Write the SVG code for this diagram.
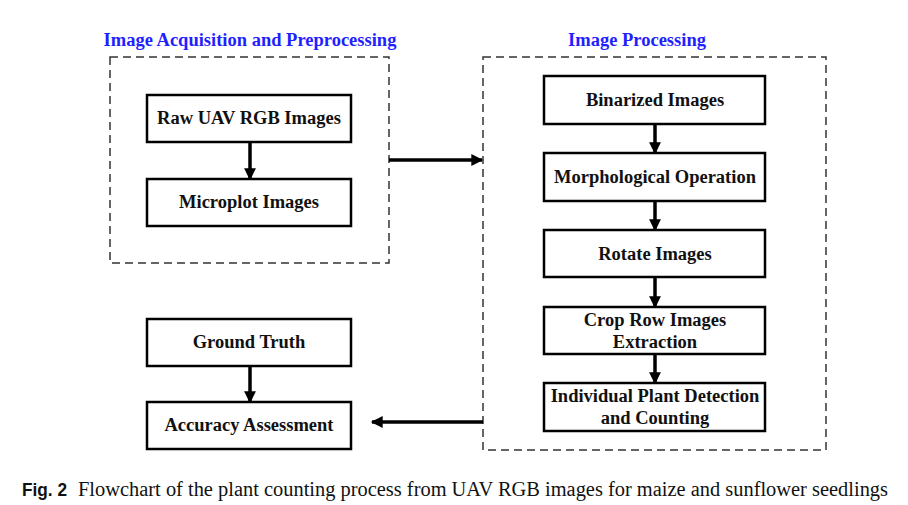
<svg xmlns="http://www.w3.org/2000/svg" width="908" height="505" viewBox="0 0 908 505">
  <style>
    .frame { fill: none; stroke: #333; stroke-width: 1.5; stroke-dasharray: 8 5; }
    .box { fill: #fff; stroke: #000; stroke-width: 2.5; }
    .label { font-family: "Liberation Serif", "Times New Roman", serif; font-weight: bold; font-size: 18.5px; fill: #111; text-anchor: middle; }
    .title { font-family: "Liberation Serif", "Times New Roman", serif; font-weight: bold; font-size: 18.5px; fill: #1f1fff; text-anchor: middle; }
    .edge { stroke: #000; stroke-width: 3.5; fill: none; }
    .caption { font-family: "Liberation Serif", "Times New Roman", serif; font-size: 20px; fill: #111; }
    .fig { font-family: "Liberation Sans", Arial, sans-serif; font-weight: bold; font-size: 18px; fill: #111; }
  </style>
  <defs>
    <marker id="head" viewBox="0 0 10 10" refX="9" refY="5" markerWidth="3.6" markerHeight="3.4" orient="auto" markerUnits="strokeWidth">
      <path d="M0,0 L10,5 L0,10 Z" fill="#000"/>
    </marker>
  </defs>

  <rect width="908" height="505" fill="#fff"/>

  <!-- grouping frames -->
  <g id="acquisition-frame">
    <text class="title" x="250" y="46">Image Acquisition and Preprocessing</text>
    <rect class="frame" x="110" y="57" width="279" height="206"/>
  </g>
  <g id="processing-frame">
    <text class="title" x="637" y="46">Image Processing</text>
    <rect class="frame" x="483" y="57" width="343" height="393"/>
  </g>

  <!-- connectors -->
  <g id="connectors">
    <line class="edge" x1="250" y1="142" x2="250" y2="179" marker-end="url(#head)"/>
    <line class="edge" x1="655" y1="124" x2="655" y2="153" marker-end="url(#head)"/>
    <line class="edge" x1="655" y1="201" x2="655" y2="230" marker-end="url(#head)"/>
    <line class="edge" x1="655" y1="277" x2="655" y2="307" marker-end="url(#head)"/>
    <line class="edge" x1="655" y1="354" x2="655" y2="383" marker-end="url(#head)"/>
    <line class="edge" x1="250" y1="366" x2="250" y2="402" marker-end="url(#head)"/>
    <line class="edge" x1="389" y1="160" x2="482" y2="160" marker-end="url(#head)"/>
    <line class="edge" x1="483" y1="422" x2="372" y2="422" marker-end="url(#head)"/>
  </g>

  <!-- nodes -->
  <g id="raw-images">
    <rect class="box" x="147" y="95" width="204" height="47"/>
    <text class="label" x="249" y="124">Raw UAV RGB Images</text>
  </g>
  <g id="microplot-images">
    <rect class="box" x="147" y="179" width="204" height="47"/>
    <text class="label" x="249" y="208">Microplot Images</text>
  </g>
  <g id="binarized-images">
    <rect class="box" x="544" y="76" width="221" height="48"/>
    <text class="label" x="655" y="106">Binarized Images</text>
  </g>
  <g id="morphological-operation">
    <rect class="box" x="544" y="153" width="221" height="48"/>
    <text class="label" x="655" y="183">Morphological Operation</text>
  </g>
  <g id="rotate-images">
    <rect class="box" x="544" y="230" width="221" height="47"/>
    <text class="label" x="655" y="260">Rotate Images</text>
  </g>
  <g id="crop-row-extraction">
    <rect class="box" x="544" y="307" width="221" height="47"/>
    <text class="label" x="655" y="326">Crop Row Images</text>
    <text class="label" x="655" y="348">Extraction</text>
  </g>
  <g id="plant-detection">
    <rect class="box" x="544" y="383" width="221" height="48"/>
    <text class="label" x="655" y="402">Individual Plant Detection</text>
    <text class="label" x="655" y="424">and Counting</text>
  </g>
  <g id="ground-truth">
    <rect class="box" x="147" y="319" width="204" height="47"/>
    <text class="label" x="249" y="348">Ground Truth</text>
  </g>
  <g id="accuracy-assessment">
    <rect class="box" x="147" y="402" width="204" height="47"/>
    <text class="label" x="249" y="431">Accuracy Assessment</text>
  </g>

  <!-- caption -->
  <text class="fig" x="22" y="496" textLength="45" lengthAdjust="spacingAndGlyphs">Fig. 2</text>
  <text class="caption" x="78" y="496" textLength="810" lengthAdjust="spacingAndGlyphs">Flowchart of the plant counting process from UAV RGB images for maize and sunflower seedlings</text>
</svg>
